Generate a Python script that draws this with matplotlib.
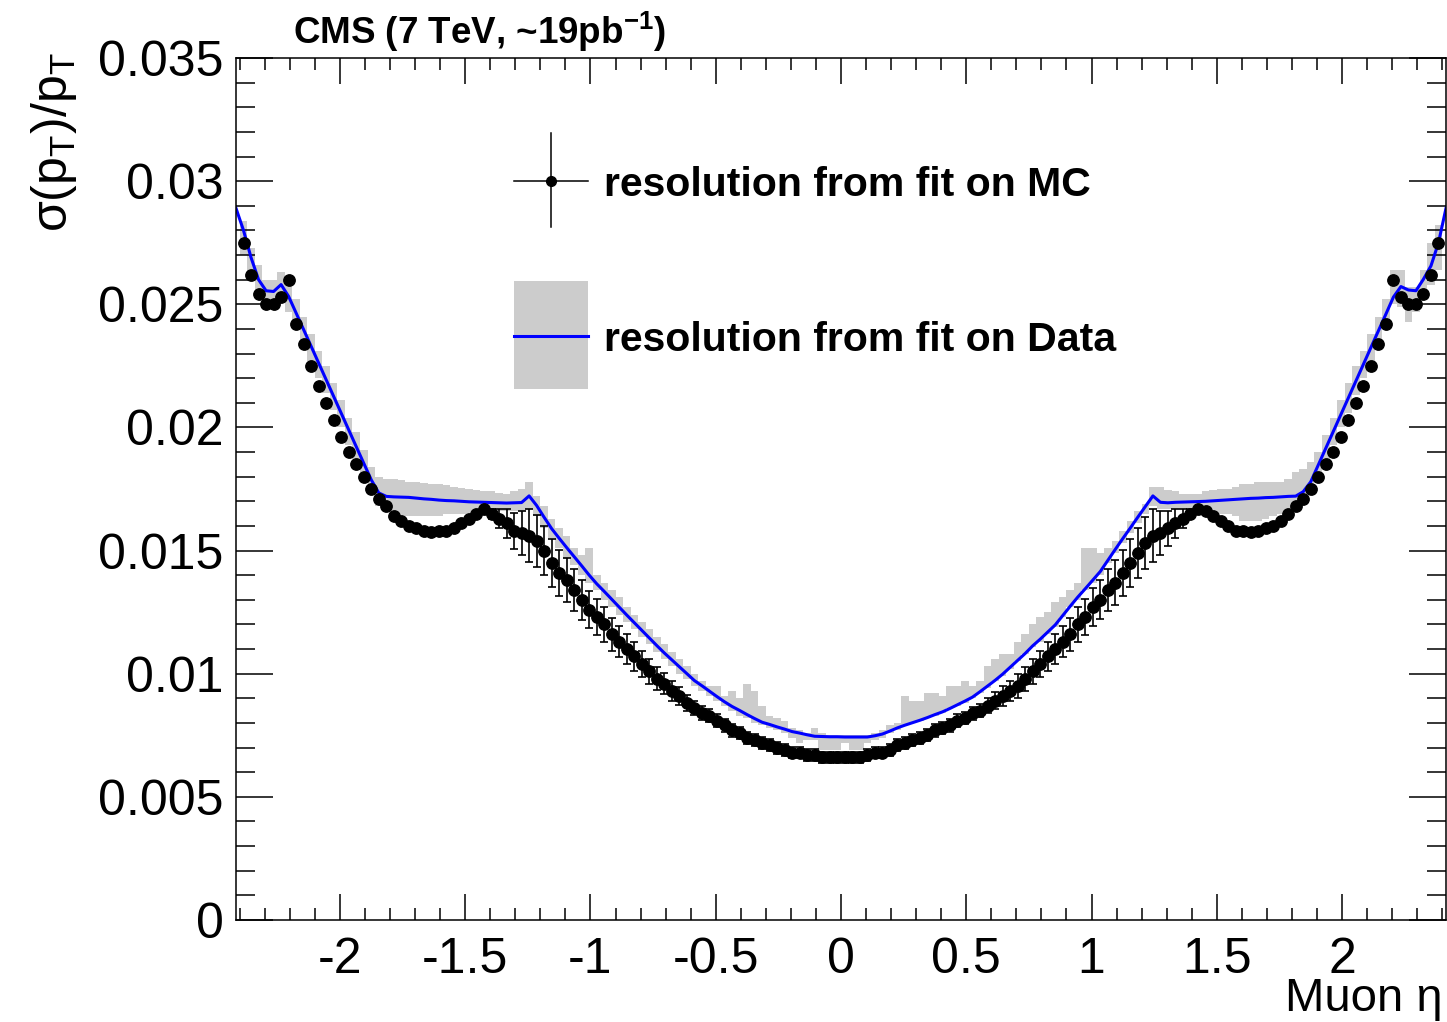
import numpy as np
import matplotlib
matplotlib.use("Agg")
import matplotlib.pyplot as plt
from matplotlib.ticker import MultipleLocator, FuncFormatter
from matplotlib.patches import Rectangle

plt.rcParams['font.family'] = ['Liberation Sans', 'DejaVu Sans']
plt.rcParams['axes.unicode_minus'] = False
plt.rcParams['mathtext.fontset'] = 'custom'
plt.rcParams['mathtext.rm'] = 'Liberation Sans'
plt.rcParams['mathtext.bf'] = 'Liberation Sans:bold'

# eta binning: 160 bins of 0.03 in [-2.4, 2.4]
eta_min, eta_max, n_bins = -2.4, 2.4, 160
eta_edges = np.linspace(eta_min, eta_max, n_bins + 1)
eta = 0.5 * (eta_edges[:-1] + eta_edges[1:])
x_range = (-2.415, 2.415)

# resolution from the fit on MC (points) and its error
mc_res = [
    0.0275, 0.0262, 0.0254, 0.0250, 0.0250, 0.0253, 0.0260, 0.0242, 0.0234, 0.0225,
    0.0217, 0.0210, 0.0203, 0.0196, 0.0190, 0.0185, 0.0180, 0.0175, 0.0171, 0.0168,
    0.0164, 0.0162, 0.0160, 0.0159, 0.0158, 0.01575, 0.0158, 0.0158, 0.0159, 0.0161,
    0.0163, 0.0165, 0.0167, 0.0165, 0.0163, 0.0161, 0.0158, 0.0157, 0.0156, 0.0154,
    0.0150, 0.0145, 0.0141, 0.0138, 0.0134, 0.0130, 0.0126, 0.0123, 0.0120, 0.0116,
    0.0113, 0.0110, 0.0107, 0.0104, 0.0101, 0.0098, 0.0096, 0.0093, 0.0091, 0.0088,
    0.0086, 0.0084, 0.0083, 0.0081, 0.0079, 0.0077, 0.0076, 0.0074, 0.0073, 0.0072,
    0.0071, 0.0070, 0.0069, 0.0068, 0.0068, 0.0067, 0.0067, 0.0066, 0.0066, 0.0066,
    0.0066, 0.0066, 0.0066, 0.0067, 0.0068, 0.0068, 0.0069, 0.0071, 0.0072, 0.0073,
    0.0074, 0.0075, 0.0077, 0.0078, 0.0079, 0.0081, 0.0082, 0.0084, 0.0085, 0.0087,
    0.0089, 0.0091, 0.0093, 0.0095, 0.0098, 0.0101, 0.0104, 0.0107, 0.0110, 0.0113,
    0.0116, 0.0120, 0.0123, 0.0127, 0.0130, 0.0134, 0.0137, 0.0141, 0.0145, 0.0149,
    0.0153, 0.0156, 0.0157, 0.0159, 0.0161, 0.0163, 0.0165, 0.0167, 0.0166, 0.0164,
    0.0162, 0.0160, 0.0158, 0.0158, 0.01575, 0.0158, 0.0159, 0.0160, 0.0162, 0.0165,
    0.0168, 0.0171, 0.0175, 0.0180, 0.0185, 0.0190, 0.0196, 0.0203, 0.0210, 0.0217,
    0.0225, 0.0234, 0.0242, 0.0260, 0.0253, 0.0250, 0.0250, 0.0254, 0.0262, 0.0275,
]
mc_err = [
    0, 0, 0, 0, 0, 0, 0, 0, 0, 0,
    0, 0, 0, 0, 0, 0, 0, 0, 0, 0,
    0, 0, 0, 0, 0, 0, 0, 0, 0, 0,
    0, 0, 0, 0.0002, 0.0004, 0.00057, 0.00072, 0.0009, 0.00107, 0.00106,
    0.0010, 0.00098, 0.00094, 0.0009, 0.00087, 0.0008, 0.00076, 0.00073, 0.0007, 0.00066,
    0.00062, 0.0006, 0.00057, 0.00053, 0.0005, 0.00047, 0.00044, 0.0004, 0.00036, 0.00032,
    0.00029, 0.00027, 0.00026, 0.00025, 0.00025, 0.00025, 0.00025, 0.00025, 0.00024, 0.00024,
    0.00024, 0.00024, 0.00024, 0.00024, 0.00024, 0.00024, 0.00024, 0.00024, 0.00024, 0.00024,
    0.00024, 0.00024, 0.00024, 0.00024, 0.00024, 0.00024, 0.00024, 0.00024, 0.00025, 0.00025,
    0.00025, 0.00025, 0.00025, 0.00025, 0.00025, 0.00025, 0.00025, 0.00026, 0.00027, 0.0003,
    0.00035, 0.0004, 0.00042, 0.00047, 0.00049, 0.0005, 0.00054, 0.00057, 0.0006, 0.00063,
    0.00068, 0.0007, 0.00074, 0.00077, 0.00079, 0.00087, 0.0009, 0.00094, 0.00099, 0.0010,
    0.00106, 0.00107, 0.0009, 0.00072, 0.00057, 0.0004, 0.0002, 0, 0, 0,
    0, 0, 0, 0, 0, 0, 0, 0, 0, 0,
    0, 0, 0, 0, 0, 0, 0, 0, 0, 0,
    0, 0, 0, 0, 0, 0, 0, 0, 0, 0,
]

# resolution from the fit on data (blue curve) and its band
data_fit = [
    0.0280, 0.0269, 0.0260, 0.02555, 0.02552, 0.0258, 0.02532, 0.02465, 0.02397, 0.02329,
    0.02261, 0.02193, 0.02126, 0.02058, 0.0199, 0.01922, 0.01855, 0.01787, 0.01734, 0.0172,
    0.01718, 0.01717, 0.01716, 0.01713, 0.0171, 0.01708, 0.01705, 0.01703, 0.01702, 0.0170,
    0.01698, 0.01697, 0.01696, 0.01695, 0.01694, 0.01693, 0.01694, 0.01695, 0.01722, 0.01683,
    0.01635, 0.01589, 0.0155, 0.01512, 0.01475, 0.01438, 0.0140, 0.01365, 0.01334, 0.01302,
    0.0127, 0.01238, 0.01207, 0.01176, 0.01145, 0.01114, 0.01084, 0.01056, 0.01028, 0.0100,
    0.00972, 0.00951, 0.00929, 0.00907, 0.00886, 0.00867, 0.00851, 0.00834, 0.00818, 0.00803,
    0.00794, 0.00784, 0.00775, 0.00765, 0.00759, 0.00752, 0.00746, 0.00745, 0.00744, 0.00744,
    0.00743, 0.00743, 0.00743, 0.00743, 0.00748, 0.00755, 0.00767, 0.0078, 0.00791, 0.00801,
    0.00811, 0.00822, 0.00834, 0.00845, 0.00859, 0.00874, 0.00889, 0.00905, 0.00927, 0.0095,
    0.00973, 0.00998, 0.01026, 0.01054, 0.01082, 0.01113, 0.0114, 0.01169, 0.01198, 0.01236,
    0.01274, 0.01311, 0.01345, 0.0138, 0.01415, 0.0146, 0.01505, 0.01549, 0.01592, 0.01636,
    0.01679, 0.01722, 0.01696, 0.01694, 0.01696, 0.01697, 0.01698, 0.01699, 0.0170, 0.01702,
    0.01704, 0.01706, 0.01708, 0.0171, 0.01712, 0.01713, 0.01715, 0.01716, 0.01718, 0.0172,
    0.01721, 0.01739, 0.01779, 0.01847, 0.01915, 0.01983, 0.02051, 0.02119, 0.02187, 0.02256,
    0.02324, 0.02392, 0.0246, 0.02529, 0.02572, 0.02558, 0.02555, 0.02602, 0.02656, 0.0275,
]
fit_at_border = (0.0289, 0.0289)

data_lo = [
    0.0270, 0.0262, 0.0253, 0.0248, 0.0248, 0.0253, 0.0247, 0.0241, 0.0234, 0.0227,
    0.0220, 0.0214, 0.0207, 0.0200, 0.0193, 0.0187, 0.0180, 0.0173, 0.0168, 0.0166,
    0.0164, 0.0164, 0.0164, 0.0164, 0.0164, 0.0164, 0.0164, 0.0165, 0.0165, 0.0165,
    0.0165, 0.0166, 0.0166, 0.0166, 0.0166, 0.0166, 0.0166, 0.0166, 0.0167, 0.0164,
    0.0159, 0.0155, 0.0151, 0.0147, 0.0144, 0.0140, 0.0137, 0.0134, 0.0130, 0.0127,
    0.0124, 0.0121, 0.0118, 0.0115, 0.0112, 0.0109, 0.0106, 0.0103, 0.0100, 0.0098,
    0.0095, 0.0093, 0.0091, 0.0089, 0.0087, 0.0085, 0.0083, 0.0082, 0.0080, 0.0079,
    0.0078, 0.0077, 0.0076, 0.0074, 0.0072, 0.0073, 0.0073, 0.0069, 0.0069, 0.0069,
    0.0072, 0.0069, 0.0069, 0.0072, 0.0073, 0.0074, 0.0076, 0.0077, 0.0079, 0.0080,
    0.0081, 0.0082, 0.0083, 0.0084, 0.0086, 0.0087, 0.0088, 0.0090, 0.0092, 0.0094,
    0.0097, 0.0099, 0.0102, 0.0105, 0.0108, 0.0111, 0.0113, 0.0116, 0.0119, 0.0123,
    0.0127, 0.0130, 0.0134, 0.0137, 0.0140, 0.0145, 0.0149, 0.0153, 0.0157, 0.0161,
    0.0165, 0.0168, 0.0167, 0.0167, 0.0167, 0.0167, 0.0167, 0.0167, 0.0165, 0.0165,
    0.0165, 0.0165, 0.0164, 0.0162, 0.0162, 0.0162, 0.0163, 0.0164, 0.0165, 0.0166,
    0.0168, 0.0170, 0.0173, 0.0179, 0.0186, 0.0193, 0.0200, 0.0206, 0.0213, 0.0220,
    0.0227, 0.0234, 0.0240, 0.0250, 0.0249, 0.0243, 0.0247, 0.0252, 0.0258, 0.0264,
]
data_hi = [
    0.0284, 0.0273, 0.0266, 0.0260, 0.0260, 0.0263, 0.0259, 0.0252, 0.0245, 0.0238,
    0.0231, 0.0225, 0.0218, 0.0211, 0.0204, 0.0198, 0.0191, 0.0184, 0.0180, 0.0179,
    0.0179, 0.01785, 0.0178, 0.0178, 0.01775, 0.0177, 0.0177, 0.01765, 0.0176, 0.01755,
    0.0175, 0.01745, 0.0174, 0.0174, 0.01735, 0.0173, 0.0174, 0.0175, 0.0178, 0.0172,
    0.0168, 0.0163, 0.0159, 0.0156, 0.0151, 0.0148, 0.0151, 0.0140, 0.0137, 0.0134,
    0.0131, 0.0127, 0.0124, 0.0121, 0.0118, 0.0115, 0.0112, 0.0109, 0.0106, 0.0103,
    0.0100, 0.0097, 0.0095, 0.0095, 0.0091, 0.0093, 0.0090, 0.0096, 0.0093, 0.0087,
    0.0083, 0.0082, 0.0081, 0.0078, 0.0077, 0.0076, 0.0078, 0.0076, 0.0075, 0.0075,
    0.0075, 0.0075, 0.0075, 0.0075, 0.0076, 0.0077, 0.0079, 0.0080, 0.0091, 0.0089,
    0.0089, 0.0092, 0.0092, 0.0091, 0.0095, 0.0095, 0.0097, 0.0095, 0.0097, 0.0103,
    0.0106, 0.0108, 0.0108, 0.0113, 0.0116, 0.0120, 0.0123, 0.0125, 0.0129, 0.0131,
    0.0134, 0.0137, 0.0151, 0.0151, 0.0149, 0.0151, 0.0154, 0.0158, 0.0162, 0.0166,
    0.0169, 0.0176, 0.0176, 0.01745, 0.0174, 0.0173, 0.0173, 0.0173, 0.0174, 0.01745,
    0.0175, 0.0175, 0.0176, 0.0177, 0.0177, 0.0178, 0.0178, 0.0178, 0.0178, 0.0179,
    0.0182, 0.0183, 0.0186, 0.0190, 0.0197, 0.0204, 0.0211, 0.0218, 0.0225, 0.0231,
    0.0238, 0.0245, 0.0252, 0.0264, 0.0264, 0.0257, 0.0257, 0.0264, 0.0275, 0.0282,
]

fig = plt.figure(figsize=(14.47, 10.22), dpi=100)
ax = fig.add_axes([236 / 1447, 102 / 1022, 1210 / 1447, 862 / 1022])

# data band, fit curve, MC points
ax.stairs(data_hi, eta_edges, baseline=data_lo, fill=True, color='#cccccc', lw=0, zorder=1)
ax.plot(np.r_[x_range[0], eta, x_range[1]],
        np.r_[fit_at_border[0], data_fit, fit_at_border[1]],
        color='#0000ff', lw=2.2, zorder=2)
ax.errorbar(eta, mc_res, yerr=mc_err, fmt='o', color='black', ms=8.2,
            elinewidth=1.2, capsize=2.8, capthick=1.2, zorder=3)

ax.set_xlim(*x_range)
ax.set_ylim(0, 0.035)

ax.xaxis.set_major_locator(MultipleLocator(0.5))
ax.xaxis.set_minor_locator(MultipleLocator(0.1))
ax.yaxis.set_major_locator(MultipleLocator(0.005))
ax.yaxis.set_minor_locator(MultipleLocator(0.001))
fmt = FuncFormatter(lambda v, p: '%g' % round(v, 4))
ax.xaxis.set_major_formatter(fmt)
ax.yaxis.set_major_formatter(fmt)

ax.tick_params(which='both', direction='in', top=True, right=True, width=1.1,
               labelsize=36)
ax.tick_params(axis='x', which='major', length=18.7, pad=12)
ax.tick_params(axis='x', which='minor', length=8.6)
ax.tick_params(axis='y', which='major', length=26.6, pad=9)
ax.tick_params(axis='y', which='minor', length=13.7)
for s in ax.spines.values():
    s.set_linewidth(1.1)

# legend drawn by hand
tr = ax.transAxes
ax.plot([0.2298, 0.2909], [0.8573, 0.8573], transform=tr, color='black', lw=1.1)
ax.plot([0.2603, 0.2603], [0.804, 0.913], transform=tr, color='black', lw=1.1)
ax.plot([0.2603], [0.8573], 'o', transform=tr, color='black', ms=7)
ax.text(0.3041, 0.8399, 'resolution from fit on MC', transform=tr,
        fontsize=29.5, fontweight='bold', va='baseline', ha='left')
ax.add_patch(Rectangle((0.2298, 0.616), 0.0611, 0.1253, transform=tr,
                       color='#cccccc', lw=0))
ax.plot([0.2298, 0.2909], [0.6775, 0.6775], transform=tr, color='#0000ff', lw=2.2)
ax.text(0.3041, 0.660, 'resolution from fit on Data', transform=tr,
        fontsize=29.5, fontweight='bold', va='baseline', ha='left')

fig.text(293 / 1447, 0.957, r'CMS (7 TeV, ~19pb$^{\mathbf{-1}}$)',
         fontsize=26.5, fontweight='bold', ha='left', va='baseline')
fig.text(54 / 1447, 0.949, r'σ(p$_{\mathregular{T}}$)/p$_{\mathregular{T}}$',
         rotation=90, fontsize=36, ha='center', va='top')
fig.text(1443 / 1447, 11 / 1022, 'Muon η', fontsize=34, ha='right', va='baseline')

fig.savefig('out.png', dpi=100)
